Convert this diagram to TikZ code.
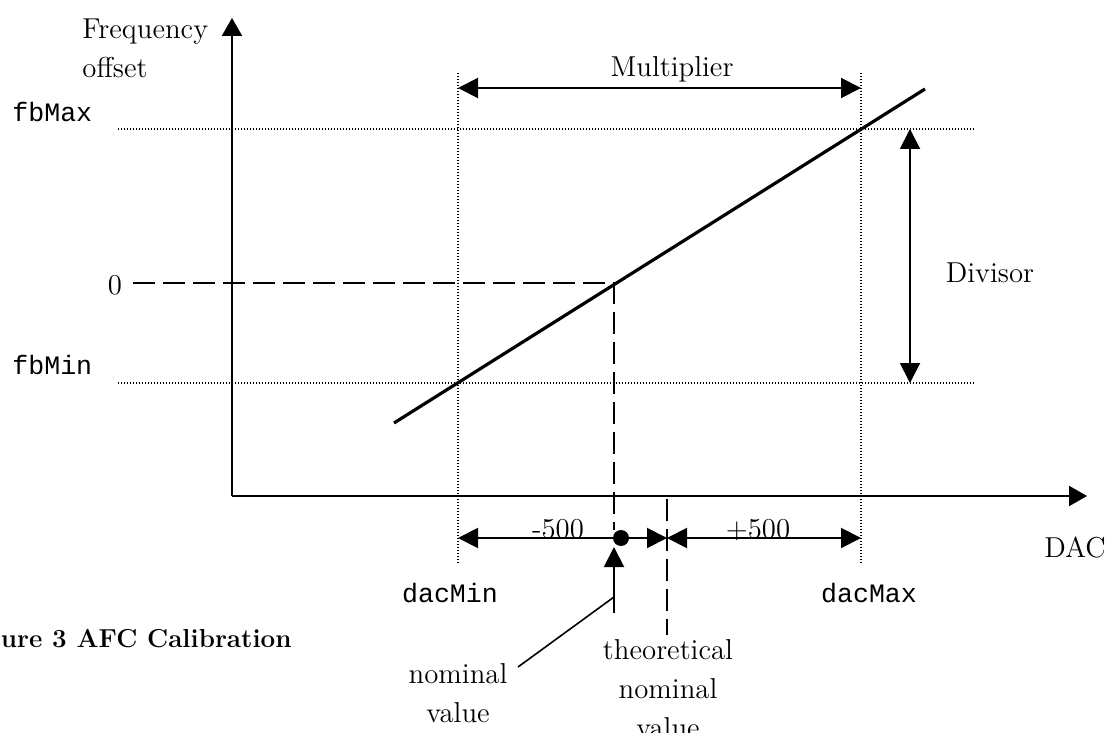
\documentclass[tikz,border=0pt]{standalone}
\usepackage{fontspec}
\setmonofont{Liberation Mono}
\usetikzlibrary{arrows.meta}
\begin{document}
\begin{tikzpicture}
[x=0.5pt,y=-0.5pt,
axis/.style={line width=1pt,-{Triangle[length=9pt,width=10pt]}},
span/.style={line width=1pt,{Triangle[length=10pt,width=10pt]}-{Triangle[length=10pt,width=10pt]}},
guide/.style={line width=0.7pt,dash pattern=on 0.7pt off 0.8pt},
zero/.style={line width=1.4pt,dash pattern=on 11pt off 4pt},
lbl/.style={font=\fontsize{14.4}{19.5}\selectfont,inner sep=0pt},
code/.style={font=\ttfamily\fontsize{13.3}{16}\selectfont,inner sep=0pt}]
\useasboundingbox (0,0) rectangle (1109,733);
%guides
\foreach \y in {129,383}
	\draw[guide] (118,\y) -- (975,\y);
\foreach \x in {458,861}
	\draw[guide] (\x,73) -- (\x,563);
%axes
\coordinate (O) at (232,496);
\coordinate (ytip) at (232,18);
\coordinate (xtip) at (1087,496);
\draw[axis] (O) -- (ytip);
\draw[axis] (O) -- (xtip);
%labels
\node[lbl,anchor=north west,align=left] (freq) at (82,18) {Frequency\\offset};
\node[code,anchor=base west] (fbmax) at (12,122) {fbMax};
\node[code,anchor=base west] (fbmin) at (12,374) {fbMin};
\node[lbl,anchor=base] (zl) at (115,294) {0};
\node[lbl,anchor=base] (mult) at (672,77) {Multiplier};
\node[lbl,anchor=base] (divl) at (990,282) {Divisor};
\node[lbl,anchor=base] (minus) at (558,538) {-500};
\node[lbl,anchor=base] (plus) at (758,538) {+500};
\node[lbl,anchor=base] (dac) at (1075,557) {DAC};
\node[code,anchor=base] (dmin) at (450,602) {dacMin};
\node[code,anchor=base] (dmax) at (869,602) {dacMax};
\node[lbl,anchor=north,align=center] (nom) at (458,663) {nominal\\value};
\node[lbl,anchor=north,align=center] (theo) at (668,639) {theoretical\\nominal\\value};
\node[font=\bfseries\fontsize{13}{16}\selectfont,inner sep=0pt,anchor=base east] (cap) at (292,647) {Figure 3 AFC Calibration};
%curve
\coordinate (lo) at (394,423);
\coordinate (hi) at (925,89);
\draw[line width=1.6pt] (lo) -- (hi);
%zero
\coordinate (z0) at (133,283);
\coordinate (zc) at (614,283);
\coordinate (zb) at (614,530);
\draw[zero] (z0) -- (zc) -- (zb);
\coordinate (t0) at (667,499);
\coordinate (t1) at (667,635);
\draw[zero] (t0) -- (t1);
%spans
\coordinate (m1) at (458,88);
\coordinate (m2) at (861,88);
\draw[span] (m1) -- (m2);
\coordinate (d1) at (910,129);
\coordinate (d2) at (910,383);
\draw[span] (d1) -- (d2);
\coordinate (s1) at (458,538);
\coordinate (s2) at (667,538);
\coordinate (s3) at (861,538);
\draw[span] (s1) -- (s2);
\draw[span] (s2) -- (s3);
\node[circle,fill,inner sep=0pt,minimum size=8pt] (dot) at (621,538) {};
%nominal
\coordinate (nfoot) at (614,613);
\coordinate (ntip) at (614,547);
\coordinate (njoin) at (614,597);
\coordinate (lead) at (518,667);
\draw[line width=1pt,-{Triangle[length=10pt,width=10pt]}] (nfoot) -- (ntip);
\draw[line width=0.8pt] (lead) -- (njoin);
\end{tikzpicture}
\end{document}
